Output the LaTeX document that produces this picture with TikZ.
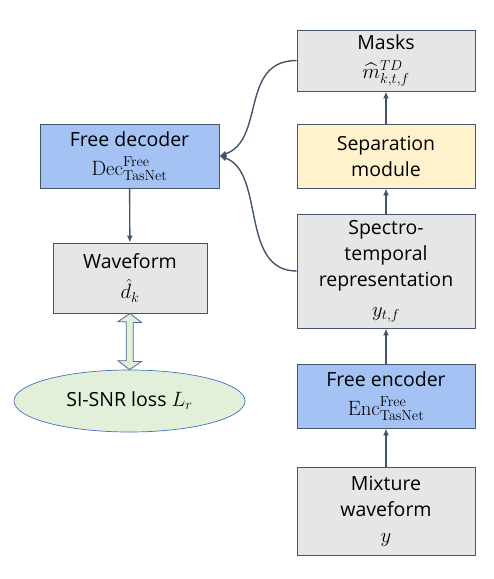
\documentclass[tikz,border=0pt]{standalone}
\usepackage{amssymb,amsmath}
\usepackage[no-math]{fontspec}
\setmainfont{Open Sans}
\usetikzlibrary{shapes.geometric,calc,arrows.meta}

\definecolor{edgeC}{HTML}{44546A}
\definecolor{boxC}{HTML}{E6E6E6}
\definecolor{codecC}{HTML}{A4C2F4}
\definecolor{sepC}{HTML}{FFF2CC}
\definecolor{lossC}{HTML}{E2F0D9}
\definecolor{rimC}{HTML}{4472C4}
\definecolor{linkC}{HTML}{4A6A96}

\newcommand{\bigmath}[1]{{\fontsize{21.5}{26}\selectfont$#1$}}

\begin{document}
\begin{tikzpicture}[x=1pt, y=-1pt,
  block/.style={draw=edgeC, line width=0.9pt, fill=boxC, align=center,
    inner sep=0pt, minimum width=178pt, font=\fontsize{19.5}{26}\selectfont},
  codec/.style={block, fill=codecC},
  flow/.style={draw=edgeC, line width=1.4pt, -{Latex[length=7pt,width=6pt]}}]
\useasboundingbox (0,0) rectangle (494,579);

\node[block, minimum height=61pt] (masks) at (386,60.5)
  {Masks\\[3pt] \bigmath{\widehat{m}^{TD}_{k,t,f}}};
\node[block, fill=sepC, minimum height=64pt] (sep) at (386,156)
  {Separation\\module};
\node[block, minimum height=114pt] (spec) at (386,271)
  {Spectro-\\temporal\\representation\\[4pt] \bigmath{y_{t,f}}};
\node[codec, minimum height=64pt] (enc) at (386,396)
  {Free encoder\\[3pt] \bigmath{\mathrm{Enc}^{\mathrm{Free}}_{\mathrm{TasNet}}}};
\node[block, minimum height=88pt] (mix) at (386,511)
  {Mixture\\waveform\\ \bigmath{y}};

\node[codec, minimum width=179pt, minimum height=64pt] (dec) at (129.5,156)
  {Free decoder\\[3pt] \bigmath{\mathrm{Dec}^{\mathrm{Free}}_{\mathrm{TasNet}}}};
\node[block, minimum width=154pt, minimum height=70pt] (wave) at (130,278)
  {Waveform\\[4pt] \bigmath{\hat{d}_k}};
\node[ellipse, draw=rimC, line width=0.7pt, fill=lossC, inner sep=0pt,
  minimum width=231pt, minimum height=62pt, font=\fontsize{19.5}{26}\selectfont]
  (loss) at (129.5,401) {SI-SNR loss \bigmath{L_r}};

\draw[flow] (mix) -- (enc);
\draw[flow] (enc) -- (spec);
\draw[flow] (spec) -- (sep);
\draw[flow] (sep) -- (masks);
\draw[flow] (dec) -- (wave);

\draw[flow] (masks.west) .. controls +(-57,0) and +(46,-16) .. (dec.east);
\draw[flow] (spec.west) .. controls +(-57,0) and +(46,16) .. (dec.east);

% two-headed block arrow between waveform and loss
\draw[draw=linkC, line width=0.8pt, fill=lossC, line join=miter]
  (wave.south) -- ++(11.5,9) -- ++(-8.2,0) -- ++(0,39) -- ++(8.2,0)
  -- (loss.north) -- ++(-11.5,-9) -- ++(8.2,0) -- ++(0,-39) -- ++(-8.2,0)
  -- cycle;

\end{tikzpicture}
\end{document}
